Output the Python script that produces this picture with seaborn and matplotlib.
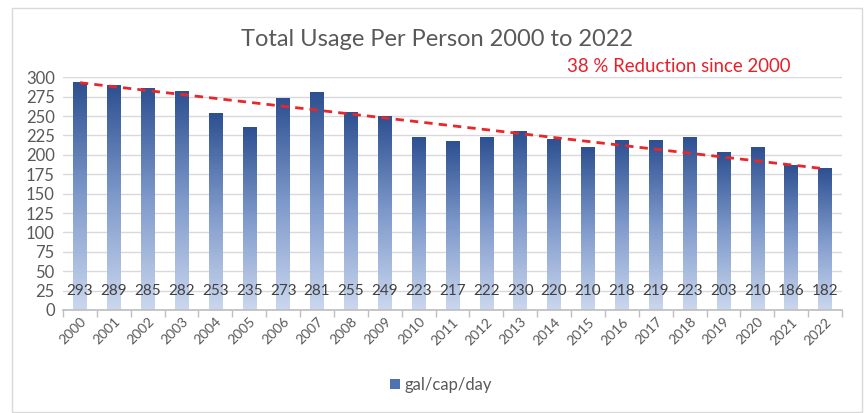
import numpy as np
import pandas as pd
import matplotlib
matplotlib.use("Agg")
import matplotlib.pyplot as plt
import seaborn as sns
from matplotlib.colors import LinearSegmentedColormap
from matplotlib.patches import Rectangle, Patch

years = ["2000", "2001", "2002", "2003", "2004", "2005", "2006", "2007", "2008",
         "2009", "2010", "2011", "2012", "2013", "2014", "2015", "2016", "2017",
         "2018", "2019", "2020", "2021", "2022"]
usage = [293, 289, 285, 282, 253, 235, 273, 281, 255, 249, 223, 217, 222, 230,
         220, 210, 218, 219, 223, 203, 210, 186, 182]
y_ticks = [0, 25, 50, 75, 100, 125, 150, 175, 200, 225, 250, 275, 300]

title = "Total Usage Per Person 2000 to 2022"
note = "38 % Reduction since 2000"
series_name = "gal/cap/day"

sns.set_theme(style="white")
plt.rcParams["font.family"] = ["Lato", "DejaVu Sans"]

df = pd.DataFrame({"year": years, "usage": usage})

fig = plt.figure(figsize=(8.66, 4.13), dpi=100)
ax = fig.add_axes([63 / 866, 1 - 310 / 413, (842 - 63) / 866, (310 - 77.3) / 413])

sns.barplot(data=df, x="year", y="usage", ax=ax, width=0.4, color="#2F528F",
            saturation=1, errorbar=None, zorder=2)

cmap = LinearSegmentedColormap.from_list("grad", ["#CAD7EE", "#7F9ACB", "#2D5091"])
grad = np.linspace(0, 1, 256).reshape(-1, 1)
for p in ax.patches:
    x0, w, h = p.get_x(), p.get_width(), p.get_height()
    ax.imshow(grad, extent=[x0, x0 + w, 0, h], origin="lower", cmap=cmap,
              aspect="auto", zorder=2, interpolation="bilinear")
    p.set_visible(False)

# dashed reduction line from first to last year
n = len(usage)
ax.plot([0, n - 1], [usage[0], usage[-1]], color="#E8262B", lw=2,
        dashes=(3, 2.2), zorder=3)

# data labels near base
for i, v in enumerate(usage):
    ax.text(i, 24, str(v), ha="center", va="center", fontsize=11,
            color="#404040", zorder=4)

ax.set_xlim(-0.5, n - 0.5)
ax.set_ylim(0, 300)
ax.set_yticks(y_ticks)
ax.yaxis.grid(True, color="#D9D9D9", lw=1)
ax.set_axisbelow(True)
ax.set_xlabel("")
ax.set_ylabel("")
for s in ["top", "right", "left"]:
    ax.spines[s].set_visible(False)
ax.spines["bottom"].set_color("#BFBFBF")
ax.set_xticks(np.arange(-0.5, n, 1), minor=True)
ax.tick_params(axis="x", which="minor", length=5, color="#BFBFBF", direction="out", bottom=True)
ax.tick_params(axis="x", which="major", length=0, pad=4)
ax.tick_params(axis="y", length=0, pad=6, labelsize=12, labelcolor="#595959")
ax.set_xticks(np.arange(n))
ax.set_xticklabels(years, rotation=45, ha="right", rotation_mode="anchor",
                   fontsize=10, color="#595959")

fig.text(437 / 866, 1 - 39 / 413, title, ha="center", va="center",
         fontsize=17, color="#595959")
fig.text(567 / 866, 1 - 67 / 413, note, ha="left", va="center",
         fontsize=13.4, color="#E8202A")

fig.legend(handles=[Patch(facecolor="#4F72B2", edgecolor="none", label=series_name)],
           loc="center", bbox_to_anchor=(441 / 866, 1 - 385 / 413), frameon=False,
           fontsize=12, handlelength=0.6, handleheight=0.6, handletextpad=0.3,
           labelcolor="#595959")

fig.patches.append(Rectangle((12 / 866, 1 / 413), (862 - 12) / 866, (405 - 1) / 413,
                             transform=fig.transFigure, fill=False,
                             edgecolor="#D9D9D9", lw=1))

fig.savefig("out.png", dpi=100, facecolor="white")
